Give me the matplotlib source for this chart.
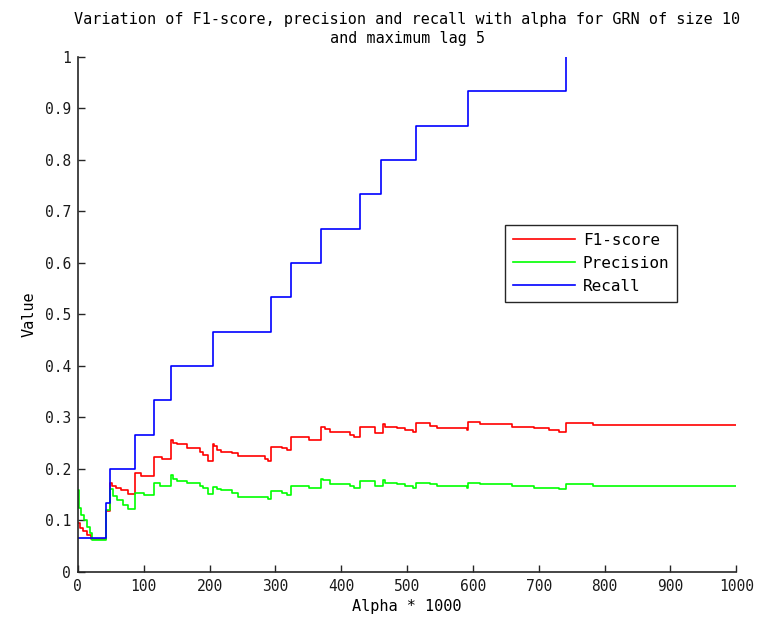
import matplotlib
matplotlib.use('Agg')
import matplotlib.pyplot as plt

# step change points (x = alpha*1000)
f1_x = [0, 3, 8, 14, 20, 42, 49, 52, 58, 65, 76, 86.6, 96, 115.5, 128,
        141.3, 145, 150, 165, 185.4, 190.5, 198, 204.7, 207, 210.7, 218,
        233.5, 243.7, 284, 289, 293.3, 309.5, 317, 323.7, 351.5, 368.8,
        376, 383, 413.4, 419.5, 428.6, 451, 463, 467, 484, 497, 509.6,
        513.7, 535, 545, 590.7, 593, 611, 659, 692, 715, 730, 741, 783, 1000]
f1_y = [0.095, 0.085, 0.08, 0.072, 0.0645, 0.118, 0.173, 0.167, 0.163, 0.159,
        0.152, 0.192, 0.187, 0.224, 0.219,
        0.256, 0.25, 0.249, 0.24, 0.233, 0.227, 0.215, 0.248, 0.245, 0.237,
        0.233, 0.231, 0.225, 0.22, 0.215, 0.243, 0.24, 0.237, 0.263, 0.256,
        0.282, 0.278, 0.272, 0.266, 0.263, 0.281, 0.27, 0.287, 0.282, 0.28,
        0.276, 0.271, 0.289, 0.283, 0.279, 0.276, 0.291, 0.287, 0.282, 0.279,
        0.276, 0.272, 0.289, 0.286, 0.286]

prec_x = [0, 2, 5, 10, 14, 18, 22, 42, 49, 53, 60, 68, 76, 86.6, 100,
          115.5, 125, 141.3, 145, 150, 165, 185.4, 190.5, 198, 204.7, 210.7,
          218, 233.5, 243.7, 289, 293.3, 309.5, 317, 323.7, 351.5, 368.8,
          373, 383, 413.4, 419.5, 428.6, 451, 463, 467, 484, 497, 509.6,
          513.7, 535, 545, 590.7, 593, 611, 659, 692, 730, 741, 783, 1000]
prec_y = [0.16, 0.125, 0.11, 0.10, 0.088, 0.075, 0.063, 0.12, 0.162, 0.148,
          0.14, 0.13, 0.122, 0.153, 0.15,
          0.173, 0.167, 0.188, 0.18, 0.177, 0.173, 0.167, 0.163, 0.151, 0.165,
          0.161, 0.159, 0.154, 0.146, 0.142, 0.157, 0.153, 0.15, 0.167, 0.1625,
          0.18, 0.178, 0.17, 0.166, 0.164, 0.177, 0.167, 0.179, 0.173, 0.17,
          0.167, 0.1625, 0.172, 0.17, 0.167, 0.1625, 0.173, 0.17, 0.167, 0.164,
          0.1605, 0.171, 0.167, 0.167]

rec_x = [0, 42, 48.6, 87, 115.5, 141.3, 204.7, 293.3, 323.7, 368.8, 428.6,
         461, 513.7, 593, 741]
rec_y = [0.0667, 0.1333, 0.2, 0.2667, 0.3333, 0.4, 0.4667, 0.5333, 0.6,
         0.6667, 0.7333, 0.8, 0.8667, 0.9333, 1.0]

x_ticks = list(range(0, 1001, 100))
y_ticks = [0, 0.1, 0.2, 0.3, 0.4, 0.5, 0.6, 0.7, 0.8, 0.9, 1]
y_ticklabels = ['0', '0.1', '0.2', '0.3', '0.4', '0.5', '0.6', '0.7', '0.8', '0.9', '1']

plt.rcParams['font.family'] = ['DejaVu Sans Mono']
plt.rcParams['font.size'] = 10.5

fig = plt.figure(figsize=(7.71, 6.26), dpi=100)
ax = fig.add_axes([0.101, 0.0863, 0.854, 0.8227])

ax.plot(f1_x, f1_y, color='#ff0000', lw=1.2, drawstyle='steps-post', label='F1-score')
ax.plot(prec_x, prec_y, color='#00ff00', lw=1.2, drawstyle='steps-post', label='Precision')
ax.plot(rec_x, rec_y, color='#0000ff', lw=1.2, drawstyle='steps-post', label='Recall')

ax.set_xlim(0, 1000)
ax.set_ylim(0, 1)
ax.set_xticks(x_ticks)
ax.set_yticks(y_ticks)
ax.set_yticklabels(y_ticklabels)
ax.spines['top'].set_visible(False)
ax.spines['right'].set_visible(False)
for s in ['left', 'bottom']:
    ax.spines[s].set_color('#262626')
    ax.spines[s].set_linewidth(1.2)
ax.tick_params(direction='in', length=5, width=1, colors='#262626',
               labelcolor='#1a1a1a', pad=5)

ax.set_xlabel('Alpha * 1000', labelpad=4, fontsize=11)
ax.set_ylabel('Value', labelpad=6, fontsize=11)
ax.set_title('Variation of F1-score, precision and recall with alpha for GRN of size 10\nand maximum lag 5',
             fontsize=10.9, pad=10, linespacing=1.35)

leg = ax.legend(loc='upper left', bbox_to_anchor=(0.649, 0.674), borderaxespad=0,
                fancybox=False, framealpha=1, edgecolor='#262626', fontsize=11.5,
                handlelength=3.9, labelspacing=0.5, borderpad=0.5, handletextpad=0.45)
leg.get_frame().set_linewidth(1.0)

plt.savefig('out.png', dpi=100)
